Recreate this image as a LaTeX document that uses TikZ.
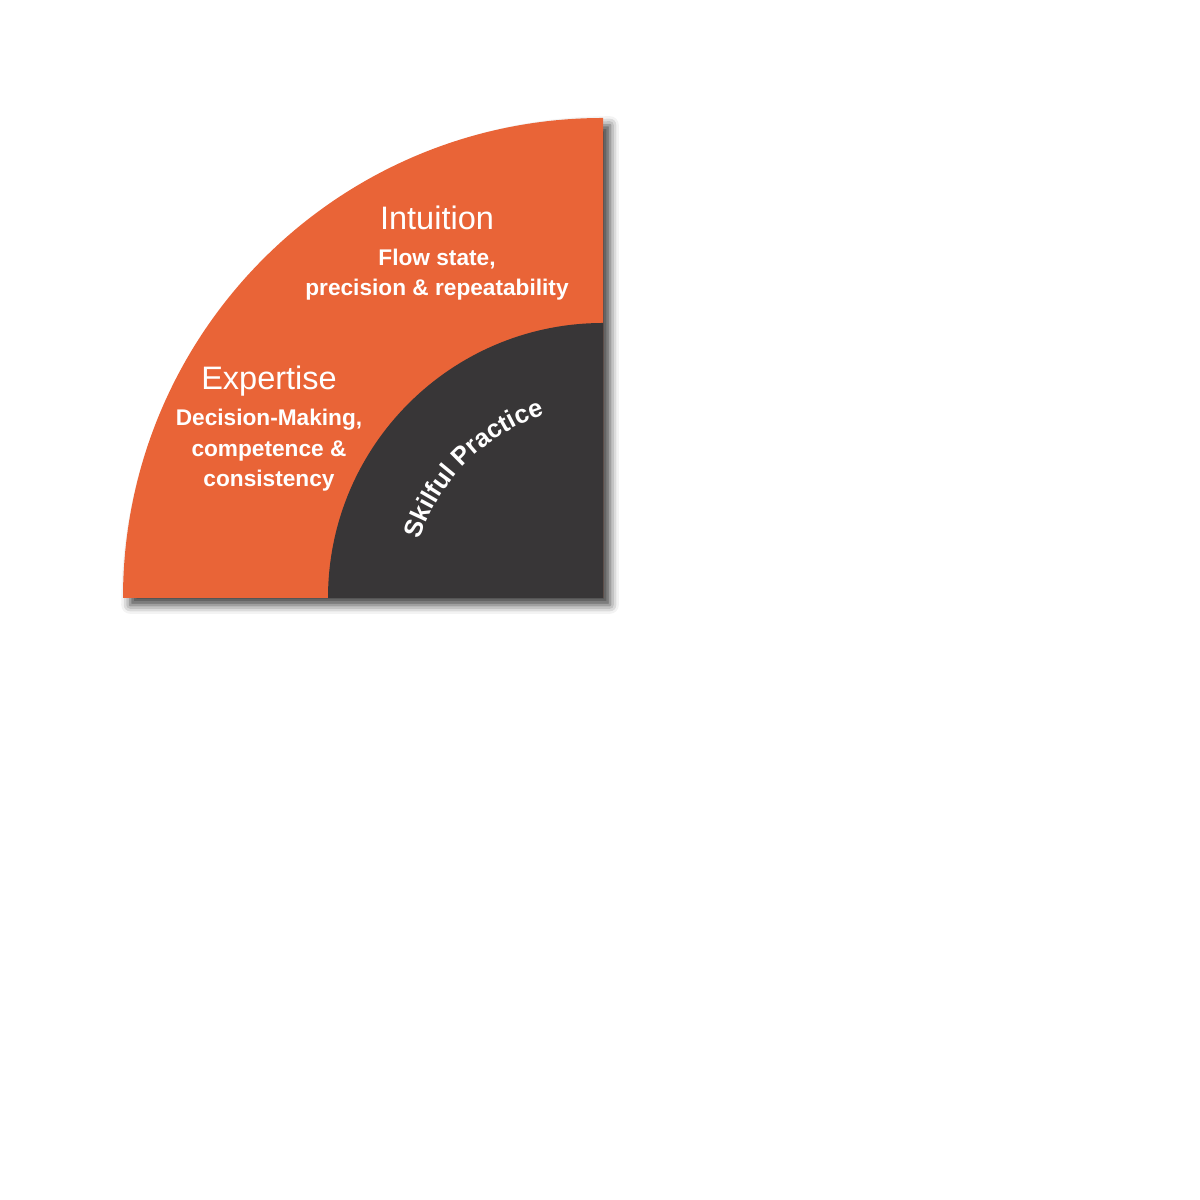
\documentclass[tikz,border=0pt]{standalone}
\usepackage{fontspec}
\setmainfont{Liberation Sans}
\usetikzlibrary{shadows.blur,decorations.text}
\definecolor{skillorange}{RGB}{233,100,55}
\definecolor{skilldark}{RGB}{56,54,55}

\begin{document}
\begin{tikzpicture}[x=0.02cm, y=0.02cm]
\tikzstyle{level}=[text=white, font=\fontsize{18.5}{22}\selectfont, anchor=base]
\tikzstyle{levelsub}=[text=white, font=\fontsize{12.9}{17.5}\selectfont\bfseries, align=center, anchor=base]
\useasboundingbox (0,0) rectangle (1200,1200);
\coordinate (centre) at (603,602);

% Quarter disks
\fill[skillorange, blur shadow={shadow xshift=4pt, shadow yshift=-4pt, shadow blur radius=5pt, shadow opacity=75}] (centre) -- ++(180:480) arc (180:90:480) -- cycle;
\fill[skilldark] (centre) -- ++(180:275) arc (180:90:275) -- cycle;

\node[level] (intuition) at (437,970) {Intuition};
\node[levelsub] (intuitionsub) at (437,904) {Flow state,\\precision \& repeatability};
\node[level] (expertise) at (269,810) {Expertise};
\node[levelsub] (expertisesub) at (269,713) {Decision-Making,\\competence \&\\consistency};

% Text on the inner arc
\path (centre) ++(172:192) coordinate (arcstart);
\path[decorate, decoration={text along path, text align=center, text color=white,
  text={|\fontsize{14.5}{14.5}\selectfont\bfseries|Skilful Practice}}] (arcstart) arc (172:98:192);
\end{tikzpicture}
\end{document}
